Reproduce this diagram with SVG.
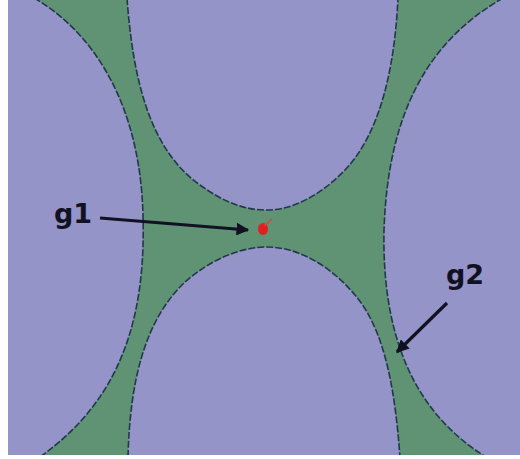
<svg xmlns="http://www.w3.org/2000/svg" width="520" height="459" viewBox="0 0 520 459">
<style>
.lobe{fill:#9494c9;stroke:none}
.edge{fill:none;stroke:#22384a;stroke-width:1.6;stroke-dasharray:7 2}
.lbl{font-family:"DejaVu Sans","Liberation Sans",sans-serif;font-weight:bold;font-size:27px;fill:#111122}
.arr{stroke:#111122;stroke-width:3.2;fill:none}
</style>
<defs>
<marker id="ah" viewBox="0 0 10 10" refX="9" refY="5" markerWidth="4" markerHeight="4" orient="auto" markerUnits="strokeWidth">
<path d="M0,0 L10,5 L0,10 Z" fill="#111122"/>
</marker>
<clipPath id="clip"><rect x="8" y="0" width="512" height="455"/></clipPath>
</defs>
<rect x="0" y="0" width="520" height="459" fill="#ffffff"/>
<g id="field" clip-path="url(#clip)">
<rect x="8" y="0" width="512" height="455" fill="#5f9374"/>
<g id="lobe-top">
<path class="lobe" d="M127,-2 C133,80 150,150 200,185 C225,203 245,210 267,210 C292,210 320,196 345,170 C383,130 395,60 398,-2 Z"/>
<path class="edge" d="M127,-2 C133,80 150,150 200,185 C225,203 245,210 267,210 C292,210 320,196 345,170 C383,130 395,60 398,-2"/>
</g>
<g id="lobe-bottom">
<path class="lobe" d="M128,457 C130,380 145,320 185,282 C210,260 240,247 267,247 C297,247 330,265 355,295 C385,330 395,390 400,457 Z"/>
<path class="edge" d="M128,457 C130,380 145,320 185,282 C210,260 240,247 267,247 C297,247 330,265 355,295 C385,330 395,390 400,457"/>
</g>
<g id="lobe-left">
<path class="lobe" d="M34,-2 C90,30 140,100 143,215 C146,320 120,400 40,457 L0,457 L0,-2 Z"/>
<path class="edge" d="M34,-2 C90,30 140,100 143,215 C146,320 120,400 40,457"/>
</g>
<g id="lobe-right">
<path class="lobe" d="M503,-2 C430,40 388,110 384,230 C382,330 410,410 486,457 L522,457 L522,-2 Z"/>
<path class="edge" d="M503,-2 C430,40 388,110 384,230 C382,330 410,410 486,457"/>
</g>
</g>
<g id="g1-point">
<ellipse cx="263" cy="229" rx="5" ry="6" fill="#e02020"/>
<path d="M264,226 L272,219" stroke="#e04040" stroke-width="1.5"/>
</g>
<g id="connectors">
<path class="arr" d="M100,218 L248,230" marker-end="url(#ah)"/>
<path class="arr" d="M447,303 L397,352" marker-end="url(#ah)"/>
</g>
<g id="label-g1"><text class="lbl" x="54" y="223">g1</text></g>
<g id="label-g2"><text class="lbl" x="446" y="284">g2</text></g>
</svg>
